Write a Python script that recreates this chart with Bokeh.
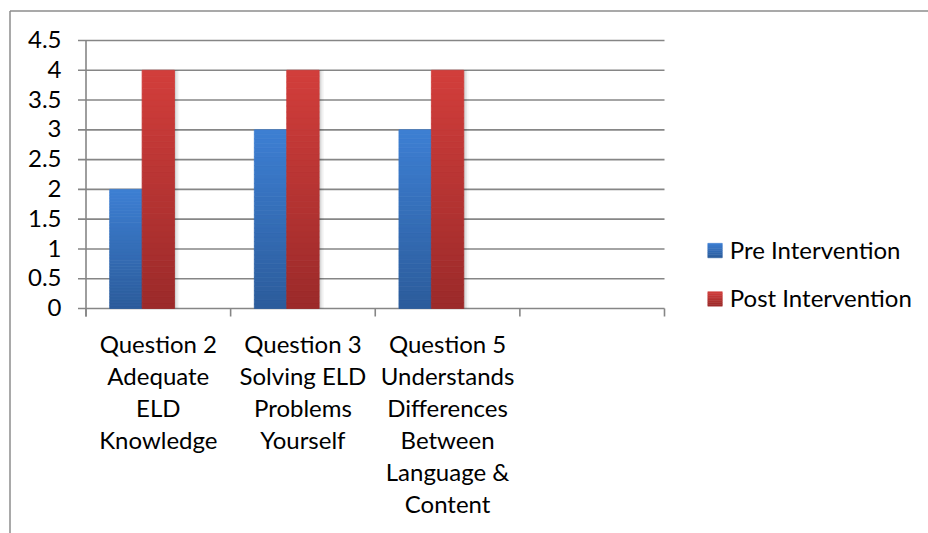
import numpy as np
from bokeh.plotting import figure
from bokeh.models import Range1d, ColumnDataSource
from bokeh.core.properties import value
from bokeh.embed import file_html
from bokeh.resources import INLINE

# ---- data -------------------------------------------------------------
categories = [
    "Question 2\nAdequate\nELD\nKnowledge",
    "Question 3\nSolving ELD\nProblems\nYourself",
    "Question 5\nUnderstands\nDifferences\nBetween\nLanguage &\nContent",
    "",
]
series_names = ["Pre Intervention", "Post Intervention"]
pre_values = [2, 3, 3]
post_values = [4, 4, 4]
y_ticks = [0, 0.5, 1, 1.5, 2, 2.5, 3, 3.5, 4, 4.5]
y_tick_labels = ["0", "0.5", "1", "1.5", "2", "2.5", "3", "3.5", "4", "4.5"]

# ---- style ------------------------------------------------------------
FONT = value("Lato")
FS = value("24px")
TEXT = "#000000"
GRID = "#868686"
BORDER = "#8c8c8c"
BLUE = ("#2c5c9b", "#3d7fd3")   # bottom, top
RED = ("#9b2a2a", "#d23e3b")
BAR_W = 0.224                    # fraction of a category slot
N_SLICES = 40
BASE_SHIFT = 8.5                 # font baseline correction, px

W, H = 928, 533
# plot area in canvas pixels
PA_LEFT, PA_RIGHT, PA_TOP, PA_BOTTOM = 85.5, 664.0, 40.0, 308.0
Y_MAX = y_ticks[-1]
N_SLOTS = len(categories)
KX = (PA_RIGHT - PA_LEFT) / N_SLOTS
KY = (PA_BOTTOM - PA_TOP) / Y_MAX


def dx(px):
    """canvas x pixel -> data x"""
    return (px - PA_LEFT) / KX


def dy(py):
    """canvas y pixel (from top) -> data y"""
    return (PA_BOTTOM - py) / KY


p = figure(width=W, height=H, output_backend="svg", toolbar_location=None,
           x_range=Range1d(dx(0), dx(W)), y_range=Range1d(dy(H), dy(0)),
           min_border=0)
p.axis.visible = False
p.grid.visible = False
p.outline_line_color = None
p.background_fill_color = "white"
p.border_fill_color = "white"

# chart border (top and left edges)
p.segment(x0=[dx(9.5), dx(9.5)], y0=[dy(10.5), dy(10.5)],
          x1=[dx(W + 5), dx(9.5)], y1=[dy(10.5), dy(H + 5)],
          line_color=BORDER, line_width=1.5)

# horizontal gridlines
p.segment(x0=[0] * len(y_ticks), x1=[N_SLOTS] * len(y_ticks), y0=y_ticks,
          y1=y_ticks, line_color=GRID, line_width=1.6)
# value axis line and ticks
TICK = 8
p.segment(x0=[0], x1=[0], y0=[dy(PA_BOTTOM + TICK)], y1=[Y_MAX],
          line_color=GRID, line_width=1.6)
p.segment(x0=[dx(PA_LEFT - TICK)] * len(y_ticks), x1=[0] * len(y_ticks),
          y0=y_ticks, y1=y_ticks, line_color=GRID, line_width=1.6)
# category axis ticks at slot boundaries
bounds = list(range(N_SLOTS + 1))
p.segment(x0=bounds, x1=bounds, y0=[0] * len(bounds),
          y1=[dy(PA_BOTTOM + TICK)] * len(bounds),
          line_color=GRID, line_width=1.6)

# y tick labels
p.text(x=[dx(61)] * len(y_ticks),
       y=[t - (7.6 - BASE_SHIFT) / KY for t in y_ticks],
       text=y_tick_labels, text_font=FONT, text_font_size=FS,
       text_color=TEXT, text_align="right", text_baseline="alphabetic")


def mix(c0, c1, t):
    a = np.array([int(c0[i:i + 2], 16) for i in (1, 3, 5)], float)
    b = np.array([int(c1[i:i + 2], 16) for i in (1, 3, 5)], float)
    c = a + (b - a) * t
    return "#%02x%02x%02x" % tuple(int(round(v)) for v in c)


def gradient_bars(xs, values, colors):
    """Draw each bar as thin horizontal slices shading from bottom to top."""
    x, b, t, col = [], [], [], []
    for xc, v in zip(xs, values):
        for k in range(N_SLICES):
            x.append(xc)
            b.append(v * k / N_SLICES)
            t.append(v * (k + 1) / N_SLICES)
            col.append(mix(colors[0], colors[1], (k + 0.5) / N_SLICES))
    src = ColumnDataSource(dict(x=x, bottom=b, top=t, color=col))
    p.vbar(x="x", bottom="bottom", top="top", width=BAR_W, source=src,
           fill_color="color", line_color="color", line_width=0.8)


centers = np.arange(len(pre_values)) + 0.5
# soft shadow to the right of each cluster
for i, a in enumerate([0.09, 0.06, 0.035]):
    off = (i + 1) * 1.6 / KX
    p.vbar(x=centers + off, top=post_values, width=BAR_W, fill_color="black",
           fill_alpha=a, line_color=None)

gradient_bars(centers - BAR_W, pre_values, BLUE)
gradient_bars(centers, post_values, RED)

# category labels, one line at a time
LINE_H = 32
FIRST_BASE = 351 - BASE_SHIFT
lx, ly, lt = [], [], []
for i, cat in enumerate(categories):
    for j, line in enumerate(cat.split("\n")):
        if line:
            lx.append(i + 0.5)
            ly.append(dy(FIRST_BASE + j * LINE_H))
            lt.append(line)
p.text(x=lx, y=ly, text=lt, text_font=FONT, text_font_size=FS,
       text_color=TEXT, text_align="center", text_baseline="alphabetic")

# legend
SW = 14.5
for k, (name, cols) in enumerate(zip(series_names, [BLUE, RED])):
    base = 257.3 + k * 48.4
    top = base - SW
    n = 8
    for s in range(n):
        y_top = top + SW * s / n
        y_bot = top + SW * (s + 1) / n
        c = mix(cols[1], cols[0], (s + 0.5) / n)
        p.quad(left=dx(707.3), right=dx(707.3 + SW), top=dy(y_top),
               bottom=dy(y_bot), fill_color=c, line_color=c, line_width=0.5)
    p.text(x=[dx(729.3)], y=[dy(base - BASE_SHIFT)], text=[name],
           text_font=FONT, text_font_size=FS, text_color=TEXT,
           text_align="left", text_baseline="alphabetic")

open("out.html", "w").write(file_html(p, INLINE))
